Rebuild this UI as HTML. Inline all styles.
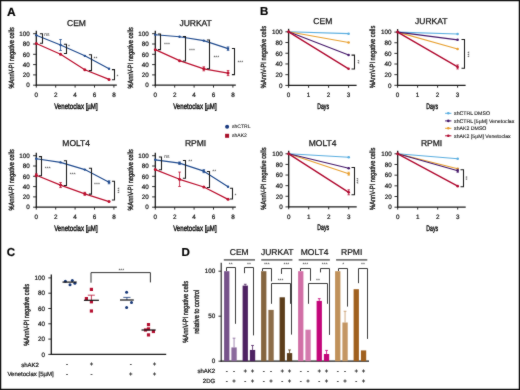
<!DOCTYPE html>
<html><head><meta charset="utf-8"><style>
html,body{margin:0;padding:0;background:#fff;}
svg{display:block;will-change:transform;}
text{font-family:"Liberation Sans", sans-serif;text-rendering:geometricPrecision;stroke:#1a1a1a;stroke-width:0.22px;}
</style></head><body>
<svg width="520" height="390" viewBox="0 0 520 390">
<defs><filter id="bl" x="0" y="0" width="520" height="390" filterUnits="userSpaceOnUse" color-interpolation-filters="sRGB"><feConvolveMatrix order="3" kernelMatrix="1 2 1 2 28 2 1 2 1" edgeMode="duplicate"/></filter></defs>
<g filter="url(#bl)">
<rect x="0" y="0" width="520" height="390" fill="#fff" />
<rect x="0.6" y="0.6" width="518.8" height="388.8" fill="none" stroke="#111" stroke-width="1.3"/>
<text x="11.35" y="15.57" font-size="12" text-anchor="middle" fill="#000" font-weight="bold" >A</text>
<text x="264.2" y="15.34" font-size="11.5" text-anchor="middle" fill="#000" font-weight="bold" >B</text>
<text x="10.8" y="255.84" font-size="11.5" text-anchor="middle" fill="#000" font-weight="bold" >C</text>
<text x="185.55" y="255.94" font-size="11.5" text-anchor="middle" fill="#000" font-weight="bold" >D</text>
<line x1="36.3" y1="30.7" x2="36.3" y2="85.8" stroke="#1a1a1a" stroke-width="1.3" />
<line x1="35.7" y1="85.2" x2="116.8" y2="85.2" stroke="#1a1a1a" stroke-width="1.3" />
<line x1="33.1" y1="85.2" x2="36.3" y2="85.2" stroke="#1a1a1a" stroke-width="0.9" />
<text x="29.8" y="87.47" font-size="6.3" text-anchor="end" fill="#1a1a1a" >0</text>
<line x1="33.1" y1="74.9" x2="36.3" y2="74.9" stroke="#1a1a1a" stroke-width="0.9" />
<text x="29.8" y="77.17" font-size="6.3" text-anchor="end" fill="#1a1a1a" >20</text>
<line x1="33.1" y1="64.6" x2="36.3" y2="64.6" stroke="#1a1a1a" stroke-width="0.9" />
<text x="29.8" y="66.87" font-size="6.3" text-anchor="end" fill="#1a1a1a" >40</text>
<line x1="33.1" y1="54.3" x2="36.3" y2="54.3" stroke="#1a1a1a" stroke-width="0.9" />
<text x="29.8" y="56.57" font-size="6.3" text-anchor="end" fill="#1a1a1a" >60</text>
<line x1="33.1" y1="44" x2="36.3" y2="44" stroke="#1a1a1a" stroke-width="0.9" />
<text x="29.8" y="46.27" font-size="6.3" text-anchor="end" fill="#1a1a1a" >80</text>
<line x1="33.1" y1="33.7" x2="36.3" y2="33.7" stroke="#1a1a1a" stroke-width="0.9" />
<text x="29.8" y="35.97" font-size="6.3" text-anchor="end" fill="#1a1a1a" >100</text>
<line x1="36.3" y1="85.2" x2="36.3" y2="87.6" stroke="#1a1a1a" stroke-width="0.9" />
<text x="36.3" y="97.47" font-size="6.3" text-anchor="middle" fill="#1a1a1a" >0</text>
<line x1="55.7" y1="85.2" x2="55.7" y2="87.6" stroke="#1a1a1a" stroke-width="0.9" />
<text x="55.7" y="97.47" font-size="6.3" text-anchor="middle" fill="#1a1a1a" >2</text>
<line x1="75.1" y1="85.2" x2="75.1" y2="87.6" stroke="#1a1a1a" stroke-width="0.9" />
<text x="75.1" y="97.47" font-size="6.3" text-anchor="middle" fill="#1a1a1a" >4</text>
<line x1="94.5" y1="85.2" x2="94.5" y2="87.6" stroke="#1a1a1a" stroke-width="0.9" />
<text x="94.5" y="97.47" font-size="6.3" text-anchor="middle" fill="#1a1a1a" >6</text>
<line x1="113.9" y1="85.2" x2="113.9" y2="87.6" stroke="#1a1a1a" stroke-width="0.9" />
<text x="113.9" y="97.47" font-size="6.3" text-anchor="middle" fill="#1a1a1a" >8</text>
<text x="76.5" y="25.96" font-size="8.5" text-anchor="middle" fill="#111" style="stroke-width:0.26px">CEM</text>
<text x="75.9" y="108.58" font-size="8" text-anchor="middle" fill="#1a1a1a" textLength="43.5" lengthAdjust="spacingAndGlyphs" style="stroke-width:0.45px">Venetoclax [µM]</text>
<text x="11.1" y="60.55" font-size="7.5" text-anchor="middle" fill="#1a1a1a" textLength="61.3" lengthAdjust="spacingAndGlyphs" transform="rotate(-90 11.1 57.85)" style="stroke-width:0.35px">%AnnV-PI negative cells</text>
<polyline points="36.3,35.25 60.55,45.03 84.8,55.84 109.05,68.82" fill="none" stroke="#1f4a8e" stroke-width="1.15" stroke-linejoin="round" />
<polyline points="36.3,43.48 60.55,54.3 84.8,69.75 109.05,79.38" fill="none" stroke="#bb0f2e" stroke-width="1.25" stroke-linejoin="round" />
<circle cx="36.3" cy="35.25" r="1.2" fill="#1f4a8e"/>
<line x1="60.55" y1="39.53" x2="60.55" y2="50.53" stroke="#1f4a8e" stroke-width="0.8" />
<line x1="59.25" y1="39.53" x2="61.85" y2="39.53" stroke="#1f4a8e" stroke-width="0.8" />
<line x1="59.25" y1="50.53" x2="61.85" y2="50.53" stroke="#1f4a8e" stroke-width="0.8" />
<circle cx="60.55" cy="45.03" r="1.2" fill="#1f4a8e"/>
<circle cx="84.8" cy="55.84" r="1.2" fill="#1f4a8e"/>
<circle cx="109.05" cy="68.82" r="1.2" fill="#1f4a8e"/>
<circle cx="36.3" cy="43.48" r="1.5" fill="#bb0f2e"/>
<circle cx="60.55" cy="54.3" r="1.5" fill="#bb0f2e"/>
<circle cx="84.8" cy="69.75" r="1.5" fill="#bb0f2e"/>
<circle cx="109.05" cy="79.38" r="1.5" fill="#bb0f2e"/>
<path d="M39.9,33.7 H42.5 V43.3 H39.9" fill="none" stroke="#1a1a1a" stroke-width="1.05" />
<path d="M63.9,44.2 H66.5 V53.5 H63.9" fill="none" stroke="#1a1a1a" stroke-width="1.05" />
<path d="M88.9,54.8 H91.5 V70.6 H88.9" fill="none" stroke="#1a1a1a" stroke-width="1.05" />
<path d="M111.9,69.6 H114.5 V79.8 H111.9" fill="none" stroke="#1a1a1a" stroke-width="1.05" />
<text x="44.3" y="35.95" font-size="5" text-anchor="start" fill="#222" style="stroke:none">ns</text>
<text x="68" y="47.9" font-size="5" text-anchor="start" fill="#222" style="stroke:none">*</text>
<text x="93.6" y="59.6" font-size="5" text-anchor="start" fill="#222" style="stroke:none">**</text>
<text x="116.5" y="78.2" font-size="5" text-anchor="start" fill="#222" style="stroke:none">*</text>
<line x1="155.3" y1="30.7" x2="155.3" y2="85.8" stroke="#1a1a1a" stroke-width="1.3" />
<line x1="154.7" y1="85.2" x2="235.8" y2="85.2" stroke="#1a1a1a" stroke-width="1.3" />
<line x1="152.1" y1="85.2" x2="155.3" y2="85.2" stroke="#1a1a1a" stroke-width="0.9" />
<text x="148.8" y="87.47" font-size="6.3" text-anchor="end" fill="#1a1a1a" >0</text>
<line x1="152.1" y1="74.9" x2="155.3" y2="74.9" stroke="#1a1a1a" stroke-width="0.9" />
<text x="148.8" y="77.17" font-size="6.3" text-anchor="end" fill="#1a1a1a" >20</text>
<line x1="152.1" y1="64.6" x2="155.3" y2="64.6" stroke="#1a1a1a" stroke-width="0.9" />
<text x="148.8" y="66.87" font-size="6.3" text-anchor="end" fill="#1a1a1a" >40</text>
<line x1="152.1" y1="54.3" x2="155.3" y2="54.3" stroke="#1a1a1a" stroke-width="0.9" />
<text x="148.8" y="56.57" font-size="6.3" text-anchor="end" fill="#1a1a1a" >60</text>
<line x1="152.1" y1="44" x2="155.3" y2="44" stroke="#1a1a1a" stroke-width="0.9" />
<text x="148.8" y="46.27" font-size="6.3" text-anchor="end" fill="#1a1a1a" >80</text>
<line x1="152.1" y1="33.7" x2="155.3" y2="33.7" stroke="#1a1a1a" stroke-width="0.9" />
<text x="148.8" y="35.97" font-size="6.3" text-anchor="end" fill="#1a1a1a" >100</text>
<line x1="155.3" y1="85.2" x2="155.3" y2="87.6" stroke="#1a1a1a" stroke-width="0.9" />
<text x="155.3" y="97.47" font-size="6.3" text-anchor="middle" fill="#1a1a1a" >0</text>
<line x1="174.7" y1="85.2" x2="174.7" y2="87.6" stroke="#1a1a1a" stroke-width="0.9" />
<text x="174.7" y="97.47" font-size="6.3" text-anchor="middle" fill="#1a1a1a" >2</text>
<line x1="194.1" y1="85.2" x2="194.1" y2="87.6" stroke="#1a1a1a" stroke-width="0.9" />
<text x="194.1" y="97.47" font-size="6.3" text-anchor="middle" fill="#1a1a1a" >4</text>
<line x1="213.5" y1="85.2" x2="213.5" y2="87.6" stroke="#1a1a1a" stroke-width="0.9" />
<text x="213.5" y="97.47" font-size="6.3" text-anchor="middle" fill="#1a1a1a" >6</text>
<line x1="232.9" y1="85.2" x2="232.9" y2="87.6" stroke="#1a1a1a" stroke-width="0.9" />
<text x="232.9" y="97.47" font-size="6.3" text-anchor="middle" fill="#1a1a1a" >8</text>
<text x="195.6" y="25.96" font-size="8.5" text-anchor="middle" fill="#111" style="stroke-width:0.26px">JURKAT</text>
<text x="194.9" y="108.58" font-size="8" text-anchor="middle" fill="#1a1a1a" textLength="43.5" lengthAdjust="spacingAndGlyphs" style="stroke-width:0.45px">Venetoclax [µM]</text>
<text x="130.1" y="60.55" font-size="7.5" text-anchor="middle" fill="#1a1a1a" textLength="61.3" lengthAdjust="spacingAndGlyphs" transform="rotate(-90 130.1 57.85)" style="stroke-width:0.35px">%AnnV-PI negative cells</text>
<polyline points="155.3,34.73 179.55,36.79 203.8,40.65 228.05,48.64" fill="none" stroke="#1f4a8e" stroke-width="1.15" stroke-linejoin="round" />
<polyline points="155.3,49.66 179.55,60.69 203.8,68.82 228.05,73.1" fill="none" stroke="#bb0f2e" stroke-width="1.25" stroke-linejoin="round" />
<circle cx="155.3" cy="34.73" r="1.2" fill="#1f4a8e"/>
<circle cx="179.55" cy="36.79" r="1.2" fill="#1f4a8e"/>
<circle cx="203.8" cy="40.65" r="1.2" fill="#1f4a8e"/>
<line x1="228.05" y1="46.94" x2="228.05" y2="50.34" stroke="#1f4a8e" stroke-width="0.8" />
<line x1="226.75" y1="46.94" x2="229.35" y2="46.94" stroke="#1f4a8e" stroke-width="0.8" />
<line x1="226.75" y1="50.34" x2="229.35" y2="50.34" stroke="#1f4a8e" stroke-width="0.8" />
<circle cx="228.05" cy="48.64" r="1.2" fill="#1f4a8e"/>
<circle cx="155.3" cy="49.66" r="1.5" fill="#bb0f2e"/>
<circle cx="179.55" cy="60.69" r="1.5" fill="#bb0f2e"/>
<line x1="203.8" y1="66.82" x2="203.8" y2="70.82" stroke="#bb0f2e" stroke-width="0.8" />
<line x1="202.5" y1="66.82" x2="205.1" y2="66.82" stroke="#bb0f2e" stroke-width="0.8" />
<line x1="202.5" y1="70.82" x2="205.1" y2="70.82" stroke="#bb0f2e" stroke-width="0.8" />
<circle cx="203.8" cy="68.82" r="1.5" fill="#bb0f2e"/>
<line x1="228.05" y1="70.6" x2="228.05" y2="75.6" stroke="#bb0f2e" stroke-width="0.8" />
<line x1="226.75" y1="70.6" x2="229.35" y2="70.6" stroke="#bb0f2e" stroke-width="0.8" />
<line x1="226.75" y1="75.6" x2="229.35" y2="75.6" stroke="#bb0f2e" stroke-width="0.8" />
<circle cx="228.05" cy="73.1" r="1.5" fill="#bb0f2e"/>
<path d="M157.9,34 H160.5 V49.6 H157.9" fill="none" stroke="#1a1a1a" stroke-width="1.05" />
<path d="M182.9,36.5 H185.5 V61 H182.9" fill="none" stroke="#1a1a1a" stroke-width="1.05" />
<path d="M206.9,40 H209.5 V68.8 H206.9" fill="none" stroke="#1a1a1a" stroke-width="1.05" />
<path d="M231.9,48.5 H234.5 V74.6 H231.9" fill="none" stroke="#1a1a1a" stroke-width="1.05" />
<text x="164" y="45.6" font-size="5" text-anchor="start" fill="#222" style="stroke:none">***</text>
<text x="189" y="51.7" font-size="5" text-anchor="start" fill="#222" style="stroke:none">***</text>
<text x="213.4" y="59" font-size="5" text-anchor="start" fill="#222" style="stroke:none">***</text>
<text x="237.4" y="64.2" font-size="5" text-anchor="start" fill="#222" style="stroke:none">***</text>
<line x1="36.3" y1="152.7" x2="36.3" y2="207.8" stroke="#1a1a1a" stroke-width="1.3" />
<line x1="35.7" y1="207.2" x2="116.8" y2="207.2" stroke="#1a1a1a" stroke-width="1.3" />
<line x1="33.1" y1="207.2" x2="36.3" y2="207.2" stroke="#1a1a1a" stroke-width="0.9" />
<text x="29.8" y="209.47" font-size="6.3" text-anchor="end" fill="#1a1a1a" >0</text>
<line x1="33.1" y1="196.9" x2="36.3" y2="196.9" stroke="#1a1a1a" stroke-width="0.9" />
<text x="29.8" y="199.17" font-size="6.3" text-anchor="end" fill="#1a1a1a" >20</text>
<line x1="33.1" y1="186.6" x2="36.3" y2="186.6" stroke="#1a1a1a" stroke-width="0.9" />
<text x="29.8" y="188.87" font-size="6.3" text-anchor="end" fill="#1a1a1a" >40</text>
<line x1="33.1" y1="176.3" x2="36.3" y2="176.3" stroke="#1a1a1a" stroke-width="0.9" />
<text x="29.8" y="178.57" font-size="6.3" text-anchor="end" fill="#1a1a1a" >60</text>
<line x1="33.1" y1="166" x2="36.3" y2="166" stroke="#1a1a1a" stroke-width="0.9" />
<text x="29.8" y="168.27" font-size="6.3" text-anchor="end" fill="#1a1a1a" >80</text>
<line x1="33.1" y1="155.7" x2="36.3" y2="155.7" stroke="#1a1a1a" stroke-width="0.9" />
<text x="29.8" y="157.97" font-size="6.3" text-anchor="end" fill="#1a1a1a" >100</text>
<line x1="36.3" y1="207.2" x2="36.3" y2="209.6" stroke="#1a1a1a" stroke-width="0.9" />
<text x="36.3" y="219.47" font-size="6.3" text-anchor="middle" fill="#1a1a1a" >0</text>
<line x1="55.7" y1="207.2" x2="55.7" y2="209.6" stroke="#1a1a1a" stroke-width="0.9" />
<text x="55.7" y="219.47" font-size="6.3" text-anchor="middle" fill="#1a1a1a" >2</text>
<line x1="75.1" y1="207.2" x2="75.1" y2="209.6" stroke="#1a1a1a" stroke-width="0.9" />
<text x="75.1" y="219.47" font-size="6.3" text-anchor="middle" fill="#1a1a1a" >4</text>
<line x1="94.5" y1="207.2" x2="94.5" y2="209.6" stroke="#1a1a1a" stroke-width="0.9" />
<text x="94.5" y="219.47" font-size="6.3" text-anchor="middle" fill="#1a1a1a" >6</text>
<line x1="113.9" y1="207.2" x2="113.9" y2="209.6" stroke="#1a1a1a" stroke-width="0.9" />
<text x="113.9" y="219.47" font-size="6.3" text-anchor="middle" fill="#1a1a1a" >8</text>
<text x="76.2" y="145.86" font-size="8.5" text-anchor="middle" fill="#111" style="stroke-width:0.26px">MOLT4</text>
<text x="75.9" y="230.58" font-size="8" text-anchor="middle" fill="#1a1a1a" textLength="43.5" lengthAdjust="spacingAndGlyphs" style="stroke-width:0.45px">Venetoclax [µM]</text>
<text x="11.1" y="182.55" font-size="7.5" text-anchor="middle" fill="#1a1a1a" textLength="61.3" lengthAdjust="spacingAndGlyphs" transform="rotate(-90 11.1 179.85)" style="stroke-width:0.35px">%AnnV-PI negative cells</text>
<polyline points="36.3,158.79 60.55,162.39 84.8,169.6 109.05,182.27" fill="none" stroke="#1f4a8e" stroke-width="1.15" stroke-linejoin="round" />
<polyline points="36.3,175.27 60.55,185.05 84.8,193.81 109.05,201.53" fill="none" stroke="#bb0f2e" stroke-width="1.25" stroke-linejoin="round" />
<circle cx="36.3" cy="158.79" r="1.2" fill="#1f4a8e"/>
<circle cx="60.55" cy="162.39" r="1.2" fill="#1f4a8e"/>
<circle cx="84.8" cy="169.6" r="1.2" fill="#1f4a8e"/>
<line x1="109.05" y1="180.77" x2="109.05" y2="183.77" stroke="#1f4a8e" stroke-width="0.8" />
<line x1="107.75" y1="180.77" x2="110.35" y2="180.77" stroke="#1f4a8e" stroke-width="0.8" />
<line x1="107.75" y1="183.77" x2="110.35" y2="183.77" stroke="#1f4a8e" stroke-width="0.8" />
<circle cx="109.05" cy="182.27" r="1.2" fill="#1f4a8e"/>
<line x1="36.3" y1="173.77" x2="36.3" y2="176.77" stroke="#bb0f2e" stroke-width="0.8" />
<line x1="35" y1="173.77" x2="37.6" y2="173.77" stroke="#bb0f2e" stroke-width="0.8" />
<line x1="35" y1="176.77" x2="37.6" y2="176.77" stroke="#bb0f2e" stroke-width="0.8" />
<circle cx="36.3" cy="175.27" r="1.5" fill="#bb0f2e"/>
<line x1="60.55" y1="182.55" x2="60.55" y2="187.55" stroke="#bb0f2e" stroke-width="0.8" />
<line x1="59.25" y1="182.55" x2="61.85" y2="182.55" stroke="#bb0f2e" stroke-width="0.8" />
<line x1="59.25" y1="187.55" x2="61.85" y2="187.55" stroke="#bb0f2e" stroke-width="0.8" />
<circle cx="60.55" cy="185.05" r="1.5" fill="#bb0f2e"/>
<line x1="84.8" y1="192.31" x2="84.8" y2="195.31" stroke="#bb0f2e" stroke-width="0.8" />
<line x1="83.5" y1="192.31" x2="86.1" y2="192.31" stroke="#bb0f2e" stroke-width="0.8" />
<line x1="83.5" y1="195.31" x2="86.1" y2="195.31" stroke="#bb0f2e" stroke-width="0.8" />
<circle cx="84.8" cy="193.81" r="1.5" fill="#bb0f2e"/>
<circle cx="109.05" cy="201.53" r="1.5" fill="#bb0f2e"/>
<path d="M38.9,156.6 H41.5 V175.8 H38.9" fill="none" stroke="#1a1a1a" stroke-width="1.05" />
<path d="M63.9,160.8 H66.5 V185.5 H63.9" fill="none" stroke="#1a1a1a" stroke-width="1.05" />
<path d="M88.9,168.2 H91.5 V194.1 H88.9" fill="none" stroke="#1a1a1a" stroke-width="1.05" />
<path d="M111.9,181.2 H114.5 V199.9 H111.9" fill="none" stroke="#1a1a1a" stroke-width="1.05" />
<text x="44.8" y="170.3" font-size="5" text-anchor="start" fill="#222" style="stroke:none">***</text>
<text x="69.8" y="176.4" font-size="5" text-anchor="start" fill="#222" style="stroke:none">***</text>
<text x="94" y="186.4" font-size="5" text-anchor="start" fill="#222" style="stroke:none">***</text>
<text x="118" y="193" font-size="5" text-anchor="middle" fill="#222" transform="rotate(-90 118 190.3)" style="stroke:none">***</text>
<line x1="155.3" y1="152.7" x2="155.3" y2="207.8" stroke="#1a1a1a" stroke-width="1.3" />
<line x1="154.7" y1="207.2" x2="235.8" y2="207.2" stroke="#1a1a1a" stroke-width="1.3" />
<line x1="152.1" y1="207.2" x2="155.3" y2="207.2" stroke="#1a1a1a" stroke-width="0.9" />
<text x="148.8" y="209.47" font-size="6.3" text-anchor="end" fill="#1a1a1a" >0</text>
<line x1="152.1" y1="196.9" x2="155.3" y2="196.9" stroke="#1a1a1a" stroke-width="0.9" />
<text x="148.8" y="199.17" font-size="6.3" text-anchor="end" fill="#1a1a1a" >20</text>
<line x1="152.1" y1="186.6" x2="155.3" y2="186.6" stroke="#1a1a1a" stroke-width="0.9" />
<text x="148.8" y="188.87" font-size="6.3" text-anchor="end" fill="#1a1a1a" >40</text>
<line x1="152.1" y1="176.3" x2="155.3" y2="176.3" stroke="#1a1a1a" stroke-width="0.9" />
<text x="148.8" y="178.57" font-size="6.3" text-anchor="end" fill="#1a1a1a" >60</text>
<line x1="152.1" y1="166" x2="155.3" y2="166" stroke="#1a1a1a" stroke-width="0.9" />
<text x="148.8" y="168.27" font-size="6.3" text-anchor="end" fill="#1a1a1a" >80</text>
<line x1="152.1" y1="155.7" x2="155.3" y2="155.7" stroke="#1a1a1a" stroke-width="0.9" />
<text x="148.8" y="157.97" font-size="6.3" text-anchor="end" fill="#1a1a1a" >100</text>
<line x1="155.3" y1="207.2" x2="155.3" y2="209.6" stroke="#1a1a1a" stroke-width="0.9" />
<text x="155.3" y="219.47" font-size="6.3" text-anchor="middle" fill="#1a1a1a" >0</text>
<line x1="174.7" y1="207.2" x2="174.7" y2="209.6" stroke="#1a1a1a" stroke-width="0.9" />
<text x="174.7" y="219.47" font-size="6.3" text-anchor="middle" fill="#1a1a1a" >2</text>
<line x1="194.1" y1="207.2" x2="194.1" y2="209.6" stroke="#1a1a1a" stroke-width="0.9" />
<text x="194.1" y="219.47" font-size="6.3" text-anchor="middle" fill="#1a1a1a" >4</text>
<line x1="213.5" y1="207.2" x2="213.5" y2="209.6" stroke="#1a1a1a" stroke-width="0.9" />
<text x="213.5" y="219.47" font-size="6.3" text-anchor="middle" fill="#1a1a1a" >6</text>
<line x1="232.9" y1="207.2" x2="232.9" y2="209.6" stroke="#1a1a1a" stroke-width="0.9" />
<text x="232.9" y="219.47" font-size="6.3" text-anchor="middle" fill="#1a1a1a" >8</text>
<text x="195.6" y="145.86" font-size="8.5" text-anchor="middle" fill="#111" style="stroke-width:0.26px">RPMI</text>
<text x="194.9" y="230.58" font-size="8" text-anchor="middle" fill="#1a1a1a" textLength="43.5" lengthAdjust="spacingAndGlyphs" style="stroke-width:0.45px">Venetoclax [µM]</text>
<text x="130.1" y="182.55" font-size="7.5" text-anchor="middle" fill="#1a1a1a" textLength="61.3" lengthAdjust="spacingAndGlyphs" transform="rotate(-90 130.1 179.85)" style="stroke-width:0.35px">%AnnV-PI negative cells</text>
<polyline points="155.3,159.82 179.55,163.17 203.8,171.15 228.05,186.81" fill="none" stroke="#1f4a8e" stroke-width="1.15" stroke-linejoin="round" />
<polyline points="155.3,169.6 179.55,179.29 203.8,187.01 228.05,199.32" fill="none" stroke="#bb0f2e" stroke-width="1.25" stroke-linejoin="round" />
<circle cx="155.3" cy="159.82" r="1.2" fill="#1f4a8e"/>
<line x1="179.55" y1="161.97" x2="179.55" y2="164.37" stroke="#1f4a8e" stroke-width="0.8" />
<line x1="178.25" y1="161.97" x2="180.85" y2="161.97" stroke="#1f4a8e" stroke-width="0.8" />
<line x1="178.25" y1="164.37" x2="180.85" y2="164.37" stroke="#1f4a8e" stroke-width="0.8" />
<circle cx="179.55" cy="163.17" r="1.2" fill="#1f4a8e"/>
<line x1="203.8" y1="169.65" x2="203.8" y2="172.65" stroke="#1f4a8e" stroke-width="0.8" />
<line x1="202.5" y1="169.65" x2="205.1" y2="169.65" stroke="#1f4a8e" stroke-width="0.8" />
<line x1="202.5" y1="172.65" x2="205.1" y2="172.65" stroke="#1f4a8e" stroke-width="0.8" />
<circle cx="203.8" cy="171.15" r="1.2" fill="#1f4a8e"/>
<circle cx="228.05" cy="186.81" r="1.2" fill="#1f4a8e"/>
<circle cx="155.3" cy="169.6" r="1.5" fill="#bb0f2e"/>
<line x1="179.55" y1="172.09" x2="179.55" y2="186.49" stroke="#bb0f2e" stroke-width="0.8" />
<line x1="178.25" y1="172.09" x2="180.85" y2="172.09" stroke="#bb0f2e" stroke-width="0.8" />
<line x1="178.25" y1="186.49" x2="180.85" y2="186.49" stroke="#bb0f2e" stroke-width="0.8" />
<circle cx="179.55" cy="179.29" r="1.5" fill="#bb0f2e"/>
<circle cx="203.8" cy="187.01" r="1.5" fill="#bb0f2e"/>
<circle cx="228.05" cy="199.32" r="1.5" fill="#bb0f2e"/>
<path d="M158.9,157 H161.5 V169.7 H158.9" fill="none" stroke="#1a1a1a" stroke-width="1.05" />
<path d="M182.9,160.5 H185.5 V178.2 H182.9" fill="none" stroke="#1a1a1a" stroke-width="1.05" />
<path d="M206.9,171.4 H209.5 V187.4 H206.9" fill="none" stroke="#1a1a1a" stroke-width="1.05" />
<path d="M229.9,188.3 H232.5 V198.9 H229.9" fill="none" stroke="#1a1a1a" stroke-width="1.05" />
<text x="164.3" y="157.85" font-size="5" text-anchor="start" fill="#222" style="stroke:none">ns</text>
<text x="188.3" y="162.7" font-size="5" text-anchor="start" fill="#222" style="stroke:none">**</text>
<text x="212.3" y="173.3" font-size="5" text-anchor="start" fill="#222" style="stroke:none">**</text>
<text x="234.5" y="196.9" font-size="5" text-anchor="start" fill="#222" style="stroke:none">*</text>
<circle cx="227.1" cy="126.7" r="2" fill="#1a3a80"/>
<text x="232.1" y="128.3" font-size="5" text-anchor="start" fill="#1a1a1a" style="stroke-width:0.1px">shCTRL</text>
<rect x="225.1" y="133.8" width="4" height="4" fill="#a8102a" />
<text x="232.1" y="137.4" font-size="5" text-anchor="start" fill="#1a1a1a" style="stroke-width:0.1px">shAK2</text>
<line x1="288.6" y1="28.8" x2="288.6" y2="86" stroke="#1a1a1a" stroke-width="1.3" />
<line x1="288" y1="85.4" x2="356.6" y2="85.4" stroke="#1a1a1a" stroke-width="1.3" />
<line x1="285.4" y1="85.4" x2="288.6" y2="85.4" stroke="#1a1a1a" stroke-width="0.9" />
<text x="282.6" y="87.67" font-size="6.3" text-anchor="end" fill="#1a1a1a" >0</text>
<line x1="285.4" y1="74.68" x2="288.6" y2="74.68" stroke="#1a1a1a" stroke-width="0.9" />
<text x="282.6" y="76.95" font-size="6.3" text-anchor="end" fill="#1a1a1a" >20</text>
<line x1="285.4" y1="63.96" x2="288.6" y2="63.96" stroke="#1a1a1a" stroke-width="0.9" />
<text x="282.6" y="66.23" font-size="6.3" text-anchor="end" fill="#1a1a1a" >40</text>
<line x1="285.4" y1="53.24" x2="288.6" y2="53.24" stroke="#1a1a1a" stroke-width="0.9" />
<text x="282.6" y="55.51" font-size="6.3" text-anchor="end" fill="#1a1a1a" >60</text>
<line x1="285.4" y1="42.52" x2="288.6" y2="42.52" stroke="#1a1a1a" stroke-width="0.9" />
<text x="282.6" y="44.79" font-size="6.3" text-anchor="end" fill="#1a1a1a" >80</text>
<line x1="285.4" y1="31.8" x2="288.6" y2="31.8" stroke="#1a1a1a" stroke-width="0.9" />
<text x="282.6" y="34.07" font-size="6.3" text-anchor="end" fill="#1a1a1a" >100</text>
<line x1="288.6" y1="85.4" x2="288.6" y2="87.8" stroke="#1a1a1a" stroke-width="0.9" />
<text x="288.6" y="97.17" font-size="6.3" text-anchor="middle" fill="#1a1a1a" >0</text>
<line x1="308.6" y1="85.4" x2="308.6" y2="87.8" stroke="#1a1a1a" stroke-width="0.9" />
<text x="308.6" y="97.17" font-size="6.3" text-anchor="middle" fill="#1a1a1a" >1</text>
<line x1="328.6" y1="85.4" x2="328.6" y2="87.8" stroke="#1a1a1a" stroke-width="0.9" />
<text x="328.6" y="97.17" font-size="6.3" text-anchor="middle" fill="#1a1a1a" >2</text>
<line x1="348.6" y1="85.4" x2="348.6" y2="87.8" stroke="#1a1a1a" stroke-width="0.9" />
<text x="348.6" y="97.17" font-size="6.3" text-anchor="middle" fill="#1a1a1a" >3</text>
<text x="322.8" y="24.46" font-size="8.5" text-anchor="middle" fill="#111" style="stroke-width:0.26px">CEM</text>
<text x="323.1" y="108.78" font-size="8" text-anchor="middle" fill="#1a1a1a" textLength="11.8" lengthAdjust="spacingAndGlyphs" style="stroke-width:0.45px">Days</text>
<text x="263.4" y="59.7" font-size="7.5" text-anchor="middle" fill="#1a1a1a" textLength="62.3" lengthAdjust="spacingAndGlyphs" transform="rotate(-90 263.4 57)" style="stroke-width:0.35px">%AnnV-PI negative cells</text>
<line x1="288.6" y1="31.8" x2="348.6" y2="33.68" stroke="#5aaee0" stroke-width="1.15" />
<circle cx="348.6" cy="33.68" r="1.3" fill="#5aaee0"/>
<line x1="288.6" y1="31.8" x2="348.6" y2="42.52" stroke="#e8a030" stroke-width="1.15" />
<circle cx="348.6" cy="42.52" r="1.3" fill="#e8a030"/>
<line x1="288.6" y1="31.8" x2="348.6" y2="55.06" stroke="#45186a" stroke-width="1.15" />
<circle cx="348.6" cy="55.06" r="1.3" fill="#45186a"/>
<line x1="288.6" y1="31.8" x2="348.6" y2="68.78" stroke="#b00a30" stroke-width="1.4" />
<circle cx="348.6" cy="68.78" r="1.3" fill="#b00a30"/>
<circle cx="288.6" cy="31.8" r="1.5" fill="#b00a30"/>
<path d="M351.5,55.1 H354.5 V68.9 H351.5" fill="none" stroke="#1a1a1a" stroke-width="1.05" />
<text x="357.8" y="64.5" font-size="5" text-anchor="middle" fill="#222" transform="rotate(-90 357.8 61.8)" style="stroke:none">**</text>
<line x1="397.6" y1="29.1" x2="397.6" y2="85.9" stroke="#1a1a1a" stroke-width="1.3" />
<line x1="397" y1="85.3" x2="465.6" y2="85.3" stroke="#1a1a1a" stroke-width="1.3" />
<line x1="394.4" y1="85.3" x2="397.6" y2="85.3" stroke="#1a1a1a" stroke-width="0.9" />
<text x="391.6" y="87.57" font-size="6.3" text-anchor="end" fill="#1a1a1a" >0</text>
<line x1="394.4" y1="74.66" x2="397.6" y2="74.66" stroke="#1a1a1a" stroke-width="0.9" />
<text x="391.6" y="76.93" font-size="6.3" text-anchor="end" fill="#1a1a1a" >20</text>
<line x1="394.4" y1="64.02" x2="397.6" y2="64.02" stroke="#1a1a1a" stroke-width="0.9" />
<text x="391.6" y="66.29" font-size="6.3" text-anchor="end" fill="#1a1a1a" >40</text>
<line x1="394.4" y1="53.38" x2="397.6" y2="53.38" stroke="#1a1a1a" stroke-width="0.9" />
<text x="391.6" y="55.65" font-size="6.3" text-anchor="end" fill="#1a1a1a" >60</text>
<line x1="394.4" y1="42.74" x2="397.6" y2="42.74" stroke="#1a1a1a" stroke-width="0.9" />
<text x="391.6" y="45.01" font-size="6.3" text-anchor="end" fill="#1a1a1a" >80</text>
<line x1="394.4" y1="32.1" x2="397.6" y2="32.1" stroke="#1a1a1a" stroke-width="0.9" />
<text x="391.6" y="34.37" font-size="6.3" text-anchor="end" fill="#1a1a1a" >100</text>
<line x1="397.6" y1="85.3" x2="397.6" y2="87.7" stroke="#1a1a1a" stroke-width="0.9" />
<text x="397.6" y="97.07" font-size="6.3" text-anchor="middle" fill="#1a1a1a" >0</text>
<line x1="417.6" y1="85.3" x2="417.6" y2="87.7" stroke="#1a1a1a" stroke-width="0.9" />
<text x="417.6" y="97.07" font-size="6.3" text-anchor="middle" fill="#1a1a1a" >1</text>
<line x1="437.6" y1="85.3" x2="437.6" y2="87.7" stroke="#1a1a1a" stroke-width="0.9" />
<text x="437.6" y="97.07" font-size="6.3" text-anchor="middle" fill="#1a1a1a" >2</text>
<line x1="457.6" y1="85.3" x2="457.6" y2="87.7" stroke="#1a1a1a" stroke-width="0.9" />
<text x="457.6" y="97.07" font-size="6.3" text-anchor="middle" fill="#1a1a1a" >3</text>
<text x="431.3" y="24.46" font-size="8.5" text-anchor="middle" fill="#111" style="stroke-width:0.26px">JURKAT</text>
<text x="432.1" y="108.68" font-size="8" text-anchor="middle" fill="#1a1a1a" textLength="11.8" lengthAdjust="spacingAndGlyphs" style="stroke-width:0.45px">Days</text>
<text x="372.4" y="59.6" font-size="7.5" text-anchor="middle" fill="#1a1a1a" textLength="62.3" lengthAdjust="spacingAndGlyphs" transform="rotate(-90 372.4 56.9)" style="stroke-width:0.35px">%AnnV-PI negative cells</text>
<line x1="397.6" y1="32.1" x2="457.6" y2="34.02" stroke="#5aaee0" stroke-width="1.15" />
<circle cx="457.6" cy="34.02" r="1.3" fill="#5aaee0"/>
<line x1="397.6" y1="32.1" x2="457.6" y2="49.02" stroke="#e8a030" stroke-width="1.15" />
<circle cx="457.6" cy="49.02" r="1.3" fill="#e8a030"/>
<line x1="397.6" y1="32.1" x2="457.6" y2="39.81" stroke="#45186a" stroke-width="1.15" />
<circle cx="457.6" cy="39.81" r="1.3" fill="#45186a"/>
<line x1="397.6" y1="32.1" x2="457.6" y2="66.95" stroke="#b00a30" stroke-width="1.4" />
<line x1="457.6" y1="64.95" x2="457.6" y2="68.95" stroke="#b00a30" stroke-width="0.8" />
<line x1="456.4" y1="64.95" x2="458.8" y2="64.95" stroke="#b00a30" stroke-width="0.8" />
<line x1="456.4" y1="68.95" x2="458.8" y2="68.95" stroke="#b00a30" stroke-width="0.8" />
<circle cx="457.6" cy="66.95" r="1.3" fill="#b00a30"/>
<circle cx="397.6" cy="32.1" r="1.5" fill="#b00a30"/>
<path d="M461.5,39.4 H464.5 V68.3 H461.5" fill="none" stroke="#1a1a1a" stroke-width="1.05" />
<text x="468.8" y="56.9" font-size="5" text-anchor="middle" fill="#222" transform="rotate(-90 468.8 54.2)" style="stroke:none">***</text>
<line x1="288.7" y1="150.8" x2="288.7" y2="207.5" stroke="#1a1a1a" stroke-width="1.3" />
<line x1="288.1" y1="206.9" x2="356.7" y2="206.9" stroke="#1a1a1a" stroke-width="1.3" />
<line x1="285.5" y1="206.9" x2="288.7" y2="206.9" stroke="#1a1a1a" stroke-width="0.9" />
<text x="282.7" y="209.17" font-size="6.3" text-anchor="end" fill="#1a1a1a" >0</text>
<line x1="285.5" y1="196.28" x2="288.7" y2="196.28" stroke="#1a1a1a" stroke-width="0.9" />
<text x="282.7" y="198.55" font-size="6.3" text-anchor="end" fill="#1a1a1a" >20</text>
<line x1="285.5" y1="185.66" x2="288.7" y2="185.66" stroke="#1a1a1a" stroke-width="0.9" />
<text x="282.7" y="187.93" font-size="6.3" text-anchor="end" fill="#1a1a1a" >40</text>
<line x1="285.5" y1="175.04" x2="288.7" y2="175.04" stroke="#1a1a1a" stroke-width="0.9" />
<text x="282.7" y="177.31" font-size="6.3" text-anchor="end" fill="#1a1a1a" >60</text>
<line x1="285.5" y1="164.42" x2="288.7" y2="164.42" stroke="#1a1a1a" stroke-width="0.9" />
<text x="282.7" y="166.69" font-size="6.3" text-anchor="end" fill="#1a1a1a" >80</text>
<line x1="285.5" y1="153.8" x2="288.7" y2="153.8" stroke="#1a1a1a" stroke-width="0.9" />
<text x="282.7" y="156.07" font-size="6.3" text-anchor="end" fill="#1a1a1a" >100</text>
<line x1="288.7" y1="206.9" x2="288.7" y2="209.3" stroke="#1a1a1a" stroke-width="0.9" />
<text x="288.7" y="218.67" font-size="6.3" text-anchor="middle" fill="#1a1a1a" >0</text>
<line x1="308.7" y1="206.9" x2="308.7" y2="209.3" stroke="#1a1a1a" stroke-width="0.9" />
<text x="308.7" y="218.67" font-size="6.3" text-anchor="middle" fill="#1a1a1a" >1</text>
<line x1="328.7" y1="206.9" x2="328.7" y2="209.3" stroke="#1a1a1a" stroke-width="0.9" />
<text x="328.7" y="218.67" font-size="6.3" text-anchor="middle" fill="#1a1a1a" >2</text>
<line x1="348.7" y1="206.9" x2="348.7" y2="209.3" stroke="#1a1a1a" stroke-width="0.9" />
<text x="348.7" y="218.67" font-size="6.3" text-anchor="middle" fill="#1a1a1a" >3</text>
<text x="322.6" y="145.86" font-size="8.5" text-anchor="middle" fill="#111" style="stroke-width:0.26px">MOLT4</text>
<text x="323.2" y="230.28" font-size="8" text-anchor="middle" fill="#1a1a1a" textLength="11.8" lengthAdjust="spacingAndGlyphs" style="stroke-width:0.45px">Days</text>
<text x="263.5" y="181.2" font-size="7.5" text-anchor="middle" fill="#1a1a1a" textLength="62.3" lengthAdjust="spacingAndGlyphs" transform="rotate(-90 263.5 178.5)" style="stroke-width:0.35px">%AnnV-PI negative cells</text>
<line x1="288.7" y1="153.8" x2="348.7" y2="157.3" stroke="#5aaee0" stroke-width="1.15" />
<circle cx="348.7" cy="157.3" r="1.3" fill="#5aaee0"/>
<line x1="288.7" y1="153.8" x2="348.7" y2="173.71" stroke="#e8a030" stroke-width="1.15" />
<line x1="348.7" y1="172.21" x2="348.7" y2="175.21" stroke="#e8a030" stroke-width="0.8" />
<line x1="347.5" y1="172.21" x2="349.9" y2="172.21" stroke="#e8a030" stroke-width="0.8" />
<line x1="347.5" y1="175.21" x2="349.9" y2="175.21" stroke="#e8a030" stroke-width="0.8" />
<circle cx="348.7" cy="173.71" r="1.3" fill="#e8a030"/>
<line x1="288.7" y1="153.8" x2="348.7" y2="168.3" stroke="#45186a" stroke-width="1.15" />
<circle cx="348.7" cy="168.3" r="1.3" fill="#45186a"/>
<line x1="288.7" y1="153.8" x2="348.7" y2="192.3" stroke="#b00a30" stroke-width="1.4" />
<line x1="348.7" y1="189.8" x2="348.7" y2="194.8" stroke="#b00a30" stroke-width="0.8" />
<line x1="347.5" y1="189.8" x2="349.9" y2="189.8" stroke="#b00a30" stroke-width="0.8" />
<line x1="347.5" y1="194.8" x2="349.9" y2="194.8" stroke="#b00a30" stroke-width="0.8" />
<circle cx="348.7" cy="192.3" r="1.3" fill="#b00a30"/>
<circle cx="288.7" cy="153.8" r="1.5" fill="#b00a30"/>
<path d="M351.5,167.5 H354.5 V194.8 H351.5" fill="none" stroke="#1a1a1a" stroke-width="1.05" />
<text x="357.5" y="183.5" font-size="5" text-anchor="middle" fill="#222" transform="rotate(-90 357.5 180.8)" style="stroke:none">***</text>
<line x1="397.7" y1="150.8" x2="397.7" y2="207.8" stroke="#1a1a1a" stroke-width="1.3" />
<line x1="397.1" y1="207.2" x2="465.7" y2="207.2" stroke="#1a1a1a" stroke-width="1.3" />
<line x1="394.5" y1="207.2" x2="397.7" y2="207.2" stroke="#1a1a1a" stroke-width="0.9" />
<text x="391.7" y="209.47" font-size="6.3" text-anchor="end" fill="#1a1a1a" >0</text>
<line x1="394.5" y1="196.52" x2="397.7" y2="196.52" stroke="#1a1a1a" stroke-width="0.9" />
<text x="391.7" y="198.79" font-size="6.3" text-anchor="end" fill="#1a1a1a" >20</text>
<line x1="394.5" y1="185.84" x2="397.7" y2="185.84" stroke="#1a1a1a" stroke-width="0.9" />
<text x="391.7" y="188.11" font-size="6.3" text-anchor="end" fill="#1a1a1a" >40</text>
<line x1="394.5" y1="175.16" x2="397.7" y2="175.16" stroke="#1a1a1a" stroke-width="0.9" />
<text x="391.7" y="177.43" font-size="6.3" text-anchor="end" fill="#1a1a1a" >60</text>
<line x1="394.5" y1="164.48" x2="397.7" y2="164.48" stroke="#1a1a1a" stroke-width="0.9" />
<text x="391.7" y="166.75" font-size="6.3" text-anchor="end" fill="#1a1a1a" >80</text>
<line x1="394.5" y1="153.8" x2="397.7" y2="153.8" stroke="#1a1a1a" stroke-width="0.9" />
<text x="391.7" y="156.07" font-size="6.3" text-anchor="end" fill="#1a1a1a" >100</text>
<line x1="397.7" y1="207.2" x2="397.7" y2="209.6" stroke="#1a1a1a" stroke-width="0.9" />
<text x="397.7" y="218.97" font-size="6.3" text-anchor="middle" fill="#1a1a1a" >0</text>
<line x1="417.7" y1="207.2" x2="417.7" y2="209.6" stroke="#1a1a1a" stroke-width="0.9" />
<text x="417.7" y="218.97" font-size="6.3" text-anchor="middle" fill="#1a1a1a" >1</text>
<line x1="437.7" y1="207.2" x2="437.7" y2="209.6" stroke="#1a1a1a" stroke-width="0.9" />
<text x="437.7" y="218.97" font-size="6.3" text-anchor="middle" fill="#1a1a1a" >2</text>
<line x1="457.7" y1="207.2" x2="457.7" y2="209.6" stroke="#1a1a1a" stroke-width="0.9" />
<text x="457.7" y="218.97" font-size="6.3" text-anchor="middle" fill="#1a1a1a" >3</text>
<text x="431.6" y="145.86" font-size="8.5" text-anchor="middle" fill="#111" style="stroke-width:0.26px">RPMI</text>
<text x="432.2" y="230.58" font-size="8" text-anchor="middle" fill="#1a1a1a" textLength="11.8" lengthAdjust="spacingAndGlyphs" style="stroke-width:0.45px">Days</text>
<text x="372.5" y="181.5" font-size="7.5" text-anchor="middle" fill="#1a1a1a" textLength="62.3" lengthAdjust="spacingAndGlyphs" transform="rotate(-90 372.5 178.8)" style="stroke-width:0.35px">%AnnV-PI negative cells</text>
<line x1="397.7" y1="153.8" x2="457.7" y2="158.71" stroke="#5aaee0" stroke-width="1.15" />
<circle cx="457.7" cy="158.71" r="1.3" fill="#5aaee0"/>
<line x1="397.7" y1="153.8" x2="457.7" y2="168.75" stroke="#e8a030" stroke-width="1.15" />
<circle cx="457.7" cy="168.75" r="1.3" fill="#e8a030"/>
<line x1="397.7" y1="153.8" x2="457.7" y2="170.78" stroke="#45186a" stroke-width="1.15" />
<line x1="457.7" y1="169.28" x2="457.7" y2="172.28" stroke="#45186a" stroke-width="0.8" />
<line x1="456.5" y1="169.28" x2="458.9" y2="169.28" stroke="#45186a" stroke-width="0.8" />
<line x1="456.5" y1="172.28" x2="458.9" y2="172.28" stroke="#45186a" stroke-width="0.8" />
<circle cx="457.7" cy="170.78" r="1.3" fill="#45186a"/>
<line x1="397.7" y1="153.8" x2="457.7" y2="186.16" stroke="#b00a30" stroke-width="1.4" />
<circle cx="457.7" cy="186.16" r="1.3" fill="#b00a30"/>
<circle cx="397.7" cy="153.8" r="1.5" fill="#b00a30"/>
<path d="M460.5,169.8 H463.5 V186.7 H460.5" fill="none" stroke="#1a1a1a" stroke-width="1.05" />
<text x="466.5" y="180.8" font-size="5" text-anchor="middle" fill="#222" transform="rotate(-90 466.5 178.1)" style="stroke:none">**</text>
<line x1="445.1" y1="113.3" x2="451.4" y2="113.3" stroke="#5aaee0" stroke-width="1" />
<circle cx="448.3" cy="113.3" r="1.3" fill="#5aaee0"/>
<text x="454.1" y="115.17" font-size="5.2" text-anchor="start" fill="#1a1a1a" style="stroke-width:0.12px">shCTRL DMSO</text>
<line x1="445.1" y1="120.9" x2="451.4" y2="120.9" stroke="#45186a" stroke-width="1" />
<circle cx="448.3" cy="120.9" r="1.3" fill="#45186a"/>
<text x="454.1" y="122.77" font-size="5.2" text-anchor="start" fill="#1a1a1a" style="stroke-width:0.12px">shCTRL [5µM] Venetoclax</text>
<line x1="445.1" y1="128.3" x2="451.4" y2="128.3" stroke="#e8a030" stroke-width="1" />
<circle cx="448.3" cy="128.3" r="1.3" fill="#e8a030"/>
<text x="454.1" y="130.17" font-size="5.2" text-anchor="start" fill="#1a1a1a" style="stroke-width:0.12px">shAK2 DMSO</text>
<line x1="445.1" y1="135.8" x2="451.4" y2="135.8" stroke="#b00a30" stroke-width="1" />
<circle cx="448.3" cy="135.8" r="1.3" fill="#b00a30"/>
<text x="454.1" y="137.67" font-size="5.2" text-anchor="start" fill="#1a1a1a" style="stroke-width:0.12px">shAK2 [5µM] Venetoclax</text>
<line x1="51.3" y1="274.5" x2="51.3" y2="355" stroke="#1a1a1a" stroke-width="1.3" />
<line x1="50.7" y1="354.4" x2="166.2" y2="354.4" stroke="#1a1a1a" stroke-width="1.3" />
<line x1="48.3" y1="354.4" x2="51.3" y2="354.4" stroke="#1a1a1a" stroke-width="0.9" />
<text x="45" y="356.67" font-size="6.3" text-anchor="end" fill="#1a1a1a" >0</text>
<line x1="48.3" y1="339.1" x2="51.3" y2="339.1" stroke="#1a1a1a" stroke-width="0.9" />
<text x="45" y="341.37" font-size="6.3" text-anchor="end" fill="#1a1a1a" >20</text>
<line x1="48.3" y1="323.8" x2="51.3" y2="323.8" stroke="#1a1a1a" stroke-width="0.9" />
<text x="45" y="326.07" font-size="6.3" text-anchor="end" fill="#1a1a1a" >40</text>
<line x1="48.3" y1="308.5" x2="51.3" y2="308.5" stroke="#1a1a1a" stroke-width="0.9" />
<text x="45" y="310.77" font-size="6.3" text-anchor="end" fill="#1a1a1a" >60</text>
<line x1="48.3" y1="293.2" x2="51.3" y2="293.2" stroke="#1a1a1a" stroke-width="0.9" />
<text x="45" y="295.47" font-size="6.3" text-anchor="end" fill="#1a1a1a" >80</text>
<line x1="48.3" y1="277.9" x2="51.3" y2="277.9" stroke="#1a1a1a" stroke-width="0.9" />
<text x="45" y="280.17" font-size="6.3" text-anchor="end" fill="#1a1a1a" >100</text>
<text x="26.65" y="317.5" font-size="7.5" text-anchor="middle" fill="#1a1a1a" textLength="62" lengthAdjust="spacingAndGlyphs" transform="rotate(-90 26.65 314.8)" style="stroke-width:0.35px">%AnnV-PI negative cells</text>
<circle cx="65.4" cy="281.2" r="1.5" fill="#183878"/>
<circle cx="70" cy="284.8" r="1.5" fill="#183878"/>
<circle cx="72.3" cy="280.4" r="1.5" fill="#183878"/>
<circle cx="74.9" cy="283.3" r="1.5" fill="#183878"/>
<line x1="62.5" y1="282.1" x2="76.7" y2="282.1" stroke="#111" stroke-width="1.2" />
<rect x="89.8" y="287.8" width="3.2" height="3.2" fill="#b50f30" />
<rect x="84.8" y="297" width="3.2" height="3.2" fill="#b50f30" />
<rect x="89.8" y="300.2" width="3.2" height="3.2" fill="#b50f30" />
<rect x="89.8" y="309.4" width="3.2" height="3.2" fill="#b50f30" />
<line x1="91.4" y1="295.2" x2="91.4" y2="300.3" stroke="#b50f30" stroke-width="0.8" />
<line x1="87.8" y1="295.2" x2="94.8" y2="295.2" stroke="#b50f30" stroke-width="0.8" />
<line x1="83.9" y1="300.3" x2="98.9" y2="300.3" stroke="#111" stroke-width="1.2" />
<circle cx="126.6" cy="292.3" r="1.5" fill="#183878"/>
<circle cx="131.5" cy="302.6" r="1.5" fill="#183878"/>
<circle cx="126.6" cy="307.4" r="1.5" fill="#183878"/>
<line x1="126.9" y1="297.4" x2="126.9" y2="300" stroke="#183878" stroke-width="0.8" />
<line x1="123.3" y1="297.4" x2="130.5" y2="297.4" stroke="#183878" stroke-width="0.8" />
<line x1="120" y1="300" x2="133.8" y2="300" stroke="#111" stroke-width="1.2" />
<rect x="146.9" y="323" width="3.2" height="3.2" fill="#b50f30" />
<rect x="146.9" y="327.3" width="3.2" height="3.2" fill="#b50f30" />
<rect x="151.8" y="329.9" width="3.2" height="3.2" fill="#b50f30" />
<rect x="146.9" y="333.3" width="3.2" height="3.2" fill="#b50f30" />
<rect x="143.9" y="328.4" width="3.2" height="3.2" fill="#b50f30" />
<line x1="141.5" y1="330" x2="155.7" y2="330" stroke="#111" stroke-width="1.2" />
<path d="M91,282.7 V272.6 H150.4 V282.4" fill="none" stroke="#333" stroke-width="1" />
<text x="121.3" y="271.6" font-size="5" text-anchor="middle" fill="#222" style="stroke:none">***</text>
<text x="38.9" y="366.56" font-size="6" text-anchor="end" fill="#1a1a1a" >shAK2</text>
<text x="53.6" y="376.46" font-size="6" text-anchor="end" fill="#1a1a1a" >Venetoclax [5µM]</text>
<text x="67.1" y="366.36" font-size="6" text-anchor="middle" fill="#1a1a1a" >-</text>
<text x="67.1" y="376.36" font-size="6" text-anchor="middle" fill="#1a1a1a" >-</text>
<text x="91.5" y="366.36" font-size="6" text-anchor="middle" fill="#1a1a1a" >+</text>
<text x="91.5" y="376.36" font-size="6" text-anchor="middle" fill="#1a1a1a" >-</text>
<text x="130.7" y="366.36" font-size="6" text-anchor="middle" fill="#1a1a1a" >-</text>
<text x="130.7" y="376.36" font-size="6" text-anchor="middle" fill="#1a1a1a" >+</text>
<text x="154.6" y="366.36" font-size="6" text-anchor="middle" fill="#1a1a1a" >+</text>
<text x="154.6" y="376.36" font-size="6" text-anchor="middle" fill="#1a1a1a" >+</text>
<line x1="221.2" y1="262.8" x2="221.2" y2="361.8" stroke="#1a1a1a" stroke-width="1.1" />
<line x1="220.7" y1="361.2" x2="369" y2="361.2" stroke="#1a1a1a" stroke-width="1.2" />
<line x1="218.5" y1="361.2" x2="221.2" y2="361.2" stroke="#1a1a1a" stroke-width="0.9" />
<text x="215.2" y="363.47" font-size="6.3" text-anchor="end" fill="#1a1a1a" >0</text>
<line x1="218.5" y1="316.2" x2="221.2" y2="316.2" stroke="#1a1a1a" stroke-width="0.9" />
<text x="215.2" y="318.47" font-size="6.3" text-anchor="end" fill="#1a1a1a" >50</text>
<line x1="218.5" y1="271.2" x2="221.2" y2="271.2" stroke="#1a1a1a" stroke-width="0.9" />
<text x="215.2" y="273.47" font-size="6.3" text-anchor="end" fill="#1a1a1a" >100</text>
<text x="185.2" y="314.45" font-size="7.5" text-anchor="middle" fill="#1a1a1a" textLength="61.9" lengthAdjust="spacingAndGlyphs" transform="rotate(-90 185.2 311.75)" style="stroke-width:0.35px">%AnnV-PI negative cells</text>
<text x="195.9" y="314.4" font-size="7.5" text-anchor="middle" fill="#1a1a1a" textLength="44.2" lengthAdjust="spacingAndGlyphs" transform="rotate(-90 195.9 311.7)" style="stroke-width:0.35px">relative to control</text>
<text x="239.2" y="255.36" font-size="8.5" text-anchor="middle" fill="#111" >CEM</text>
<line x1="223.8" y1="259.9" x2="255" y2="259.9" stroke="#4a4a4a" stroke-width="1.3" />
<rect x="224.1" y="271.2" width="5.3" height="90" fill="#76528a" />
<rect x="231.4" y="347.43" width="5.3" height="13.77" fill="#8a6a9c" />
<line x1="234.05" y1="338.16" x2="234.05" y2="347.43" stroke="#8a6a9c" stroke-width="0.8" />
<line x1="232.65" y1="338.16" x2="235.45" y2="338.16" stroke="#8a6a9c" stroke-width="0.8" />
<rect x="242.6" y="285.6" width="5.3" height="75.6" fill="#4e2262" />
<line x1="245.25" y1="284.25" x2="245.25" y2="285.6" stroke="#4e2262" stroke-width="0.8" />
<line x1="243.85" y1="284.25" x2="246.65" y2="284.25" stroke="#4e2262" stroke-width="0.8" />
<rect x="249.9" y="349.95" width="5.3" height="11.25" fill="#4e2262" />
<line x1="252.55" y1="345.45" x2="252.55" y2="349.95" stroke="#4e2262" stroke-width="0.8" />
<line x1="251.15" y1="345.45" x2="253.95" y2="345.45" stroke="#4e2262" stroke-width="0.8" />
<text x="226.75" y="373.16" font-size="6" text-anchor="middle" fill="#1a1a1a" >-</text>
<text x="226.75" y="383.16" font-size="6" text-anchor="middle" fill="#1a1a1a" >-</text>
<text x="234.05" y="373.16" font-size="6" text-anchor="middle" fill="#1a1a1a" >-</text>
<text x="234.05" y="383.16" font-size="6" text-anchor="middle" fill="#1a1a1a" >+</text>
<text x="245.25" y="373.16" font-size="6" text-anchor="middle" fill="#1a1a1a" >+</text>
<text x="245.25" y="383.16" font-size="6" text-anchor="middle" fill="#1a1a1a" >-</text>
<text x="252.55" y="373.16" font-size="6" text-anchor="middle" fill="#1a1a1a" >+</text>
<text x="252.55" y="383.16" font-size="6" text-anchor="middle" fill="#1a1a1a" >+</text>
<text x="277.2" y="255.36" font-size="8.5" text-anchor="middle" fill="#111" >JURKAT</text>
<line x1="261.23" y1="259.9" x2="292.43" y2="259.9" stroke="#4a4a4a" stroke-width="1.3" />
<rect x="261.1" y="271.2" width="5.3" height="90" fill="#85653f" />
<rect x="268.4" y="309.9" width="5.3" height="51.3" fill="#8c6c48" />
<rect x="279.6" y="297.3" width="5.3" height="63.9" fill="#5c3d1a" />
<rect x="286.9" y="353.1" width="5.3" height="8.1" fill="#5c3d1a" />
<line x1="289.55" y1="349.95" x2="289.55" y2="353.1" stroke="#5c3d1a" stroke-width="0.8" />
<line x1="288.15" y1="349.95" x2="290.95" y2="349.95" stroke="#5c3d1a" stroke-width="0.8" />
<text x="263.75" y="373.16" font-size="6" text-anchor="middle" fill="#1a1a1a" >-</text>
<text x="263.75" y="383.16" font-size="6" text-anchor="middle" fill="#1a1a1a" >-</text>
<text x="271.05" y="373.16" font-size="6" text-anchor="middle" fill="#1a1a1a" >-</text>
<text x="271.05" y="383.16" font-size="6" text-anchor="middle" fill="#1a1a1a" >+</text>
<text x="282.25" y="373.16" font-size="6" text-anchor="middle" fill="#1a1a1a" >+</text>
<text x="282.25" y="383.16" font-size="6" text-anchor="middle" fill="#1a1a1a" >-</text>
<text x="289.55" y="373.16" font-size="6" text-anchor="middle" fill="#1a1a1a" >+</text>
<text x="289.55" y="383.16" font-size="6" text-anchor="middle" fill="#1a1a1a" >+</text>
<text x="314.6" y="255.36" font-size="8.5" text-anchor="middle" fill="#111" >MOLT4</text>
<line x1="298.66" y1="259.9" x2="329.86" y2="259.9" stroke="#4a4a4a" stroke-width="1.3" />
<rect x="298.1" y="271.2" width="5.3" height="90" fill="#d16fa6" />
<rect x="305.4" y="329.7" width="5.3" height="31.5" fill="#d47aae" />
<rect x="316.6" y="300.9" width="5.3" height="60.3" fill="#c3067a" />
<line x1="319.25" y1="298.65" x2="319.25" y2="300.9" stroke="#c3067a" stroke-width="0.8" />
<line x1="317.85" y1="298.65" x2="320.65" y2="298.65" stroke="#c3067a" stroke-width="0.8" />
<rect x="323.9" y="354" width="5.3" height="7.2" fill="#c3067a" />
<line x1="326.55" y1="350.4" x2="326.55" y2="354" stroke="#c3067a" stroke-width="0.8" />
<line x1="325.15" y1="350.4" x2="327.95" y2="350.4" stroke="#c3067a" stroke-width="0.8" />
<text x="300.75" y="373.16" font-size="6" text-anchor="middle" fill="#1a1a1a" >-</text>
<text x="300.75" y="383.16" font-size="6" text-anchor="middle" fill="#1a1a1a" >-</text>
<text x="308.05" y="373.16" font-size="6" text-anchor="middle" fill="#1a1a1a" >-</text>
<text x="308.05" y="383.16" font-size="6" text-anchor="middle" fill="#1a1a1a" >+</text>
<text x="319.25" y="373.16" font-size="6" text-anchor="middle" fill="#1a1a1a" >+</text>
<text x="319.25" y="383.16" font-size="6" text-anchor="middle" fill="#1a1a1a" >-</text>
<text x="326.55" y="373.16" font-size="6" text-anchor="middle" fill="#1a1a1a" >+</text>
<text x="326.55" y="383.16" font-size="6" text-anchor="middle" fill="#1a1a1a" >+</text>
<text x="351.7" y="255.36" font-size="8.5" text-anchor="middle" fill="#111" >RPMI</text>
<line x1="336.09" y1="259.9" x2="367.29" y2="259.9" stroke="#4a4a4a" stroke-width="1.3" />
<rect x="335.1" y="271.2" width="5.3" height="90" fill="#c0915a" />
<rect x="342.4" y="322.5" width="5.3" height="38.7" fill="#c49663" />
<line x1="345.05" y1="311.25" x2="345.05" y2="322.5" stroke="#c49663" stroke-width="0.8" />
<line x1="343.65" y1="311.25" x2="346.45" y2="311.25" stroke="#c49663" stroke-width="0.8" />
<rect x="353.6" y="289.2" width="5.3" height="72" fill="#a0601e" />
<rect x="360.9" y="350.4" width="5.3" height="10.8" fill="#a0601e" />
<text x="337.75" y="373.16" font-size="6" text-anchor="middle" fill="#1a1a1a" >-</text>
<text x="337.75" y="383.16" font-size="6" text-anchor="middle" fill="#1a1a1a" >-</text>
<text x="345.05" y="373.16" font-size="6" text-anchor="middle" fill="#1a1a1a" >-</text>
<text x="345.05" y="383.16" font-size="6" text-anchor="middle" fill="#1a1a1a" >+</text>
<text x="356.25" y="373.16" font-size="6" text-anchor="middle" fill="#1a1a1a" >+</text>
<text x="356.25" y="383.16" font-size="6" text-anchor="middle" fill="#1a1a1a" >-</text>
<text x="363.55" y="373.16" font-size="6" text-anchor="middle" fill="#1a1a1a" >+</text>
<text x="363.55" y="383.16" font-size="6" text-anchor="middle" fill="#1a1a1a" >+</text>
<text x="215.2" y="373.16" font-size="6" text-anchor="end" fill="#1a1a1a" >shAK2</text>
<text x="215.2" y="383.16" font-size="6" text-anchor="end" fill="#1a1a1a" >2DG</text>
<path d="M226.5,271 V267.5 H235.5 V323.8" fill="none" stroke="#333" stroke-width="0.95" />
<text x="230.8" y="266" font-size="5" text-anchor="middle" fill="#222" style="stroke:none">**</text>
<path d="M244.5,273.2 V267.5 H253.5 V335.4" fill="none" stroke="#333" stroke-width="0.95" />
<text x="248.9" y="266" font-size="5" text-anchor="middle" fill="#222" style="stroke:none">**</text>
<path d="M262.5,271 V268.5 H271.5 V281.4" fill="none" stroke="#333" stroke-width="0.95" />
<text x="266.8" y="266" font-size="5" text-anchor="middle" fill="#222" style="stroke:none">***</text>
<path d="M281.5,273.9 V268.5 H291.5 V334.6" fill="none" stroke="#333" stroke-width="0.95" />
<text x="286.4" y="266" font-size="5" text-anchor="middle" fill="#222" style="stroke:none">***</text>
<path d="M271.5,303.8 V283.5 H290.5 V303.8" fill="none" stroke="#333" stroke-width="0.95" />
<text x="280.6" y="281.7" font-size="5" text-anchor="middle" fill="#222" style="stroke:none">***</text>
<path d="M300.5,271 V268.5 H310.5 V280.8" fill="none" stroke="#333" stroke-width="0.95" />
<text x="305.3" y="266.3" font-size="5" text-anchor="middle" fill="#222" style="stroke:none">***</text>
<path d="M320.5,272.4 V268.5 H329.5 V334.9" fill="none" stroke="#333" stroke-width="0.95" />
<text x="324.7" y="266.3" font-size="5" text-anchor="middle" fill="#222" style="stroke:none">***</text>
<path d="M308.5,303.8 V283.5 H327.5 V303.8" fill="none" stroke="#333" stroke-width="0.95" />
<text x="318" y="281.7" font-size="5" text-anchor="middle" fill="#222" style="stroke:none">**</text>
<path d="M338.5,271 V268.5 H347.5 V306.6" fill="none" stroke="#333" stroke-width="0.95" />
<text x="343.2" y="266.3" font-size="5" text-anchor="middle" fill="#222" style="stroke:none">*</text>
<path d="M358.5,283.2 V268.5 H367.5 V338.9" fill="none" stroke="#333" stroke-width="0.95" />
<text x="362.9" y="266.3" font-size="5" text-anchor="middle" fill="#222" style="stroke:none">**</text>
</g>
</svg>
</body></html>
